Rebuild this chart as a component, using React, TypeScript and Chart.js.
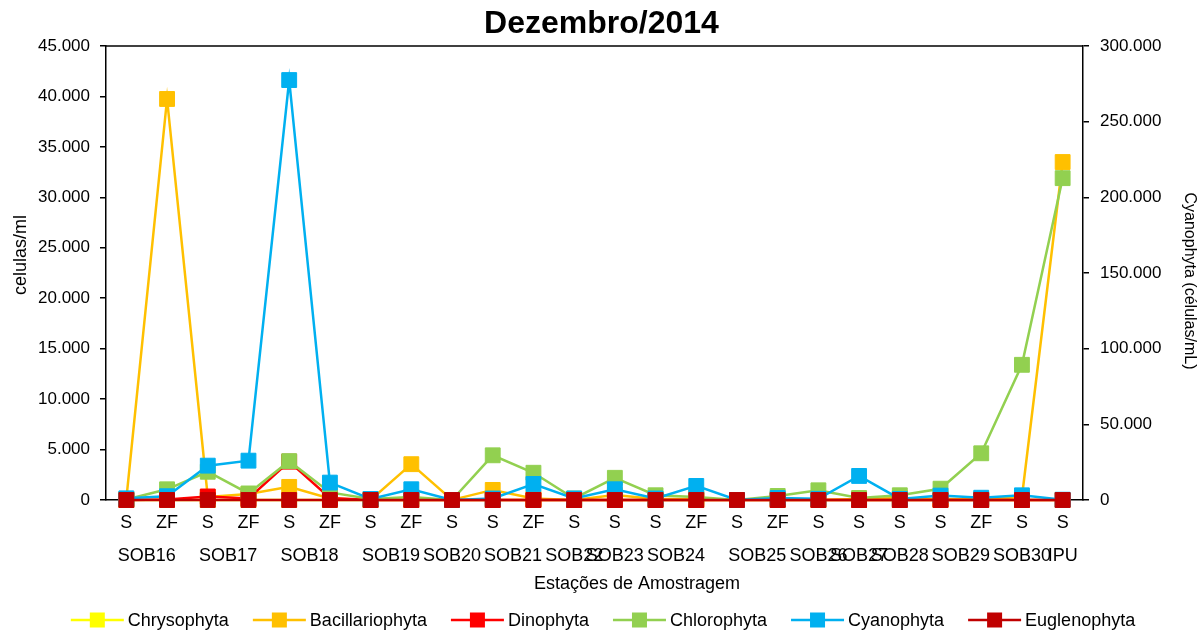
import React, { useEffect, useRef } from 'react';
import { Chart, registerables } from 'chart.js';

Chart.register(...registerables);

// ---------- data ----------
const categories = ['S', 'ZF', 'S', 'ZF', 'S', 'ZF', 'S', 'ZF', 'S', 'S', 'ZF', 'S', 'S', 'S', 'ZF', 'S', 'ZF', 'S', 'S', 'S', 'S', 'ZF', 'S', 'S'];
const groupLabels = ['SOB16', 'SOB17', 'SOB18', 'SOB19', 'SOB20', 'SOB21', 'SOB22', 'SOB23', 'SOB24', 'SOB25', 'SOB26', 'SOB27', 'SOB28', 'SOB29', 'SOB30', 'IPU'];
const groupSpans = [2, 2, 2, 2, 1, 2, 1, 1, 2, 2, 1, 1, 1, 2, 1, 1];

const chrysophyta = [0, 0, 0, 0, 0, 0, 0, 0, 0, 0, 0, 0, 0, 0, 0, 0, 0, 0, 0, 0, 0, 0, 0, 0];
const bacillariophyta = [100, 39750, 300, 600, 1300, 150, 0, 3550, 0, 1000, 150, 0, 500, 100, 100, 0, 100, 0, 100, 200, 100, 100, 300, 33500];
const dinophyta = [0, 50, 350, 150, 3800, 200, 0, 0, 0, 0, 0, 0, 0, 0, 0, 0, 0, 0, 0, 0, 0, 0, 0, 0];
const chlorophyta = [50, 1060, 2800, 650, 3850, 750, 100, 300, 0, 4430, 2700, 150, 2200, 470, 300, 0, 400, 960, 200, 470, 1120, 4630, 13400, 31900];
// Cyanophyta on the secondary (right) axis
const cyanophyta = [1100, 2500, 22700, 26000, 277500, 11500, 700, 7100, 0, 1000, 10600, 1000, 7100, 1000, 9300, 0, 1300, 800, 15900, 700, 2900, 1500, 3100, 200];
const euglenophyta = [0, 0, 0, 0, 0, 0, 0, 0, 0, 0, 0, 0, 0, 0, 0, 0, 0, 0, 0, 0, 0, 0, 0, 0];

const leftTicks = { min: 0, max: 45000, step: 5000 };
const rightTicks = { min: 0, max: 300000, step: 50000 };

const titleText = 'Dezembro/2014';
const xTitle = 'Estações de Amostragem';
const yTitle = 'celulas/ml';
const y1Title = 'Cyanophyta (células/mL)';

const FONT = "'Liberation Sans', Arial, Helvetica, sans-serif";
const fmt = (v: number) => String(Math.round(Number(v))).replace(/\B(?=(\d{3})+(?!\d))/g, '.');

export default function App() {
  const ref = useRef<HTMLCanvasElement>(null);

  useEffect(() => {
    document.body.style.margin = '0';
    const canvas = ref.current;
    if (!canvas) return;

    const series = [
      { label: 'Chrysophyta', data: chrysophyta, color: '#FFFF00', axis: 'y' },
      { label: 'Bacillariophyta', data: bacillariophyta, color: '#FFC000', axis: 'y' },
      { label: 'Dinophyta', data: dinophyta, color: '#FF0000', axis: 'y' },
      { label: 'Chlorophyta', data: chlorophyta, color: '#92D050', axis: 'y' },
      { label: 'Cyanophyta', data: cyanophyta, color: '#00B0F0', axis: 'y1' },
      { label: 'Euglenophyta', data: euglenophyta, color: '#C00000', axis: 'y' },
    ];
    const n = series.length;

    const datasets = series.map((s, i) => ({
      label: s.label,
      data: s.data,
      yAxisID: s.axis,
      borderColor: s.color,
      backgroundColor: s.color,
      pointBackgroundColor: s.color,
      pointBorderColor: s.color,
      pointStyle: 'rect',
      pointRadius: 10.5,
      pointHoverRadius: 10.5,
      pointBorderWidth: 1,
      borderWidth: 2.5,
      tension: 0,
      clip: false,
      order: n - i,
    }));

    const extras = {
      id: 'extras',
      afterDraw(chart: any) {
        const ctx = chart.ctx;
        const xs = chart.scales.x;
        const ca = chart.chartArea;
        ctx.save();
        // top border of plot area
        ctx.strokeStyle = '#000';
        ctx.lineWidth = 1.5;
        ctx.beginPath();
        ctx.moveTo(ca.left, ca.top);
        ctx.lineTo(ca.right, ca.top);
        ctx.stroke();

        // group labels (second level of category axis)
        ctx.font = `18px ${FONT}`;
        ctx.fillStyle = '#000';
        ctx.textAlign = 'center';
        ctx.textBaseline = 'middle';
        let idx = 0;
        groupLabels.forEach((g, i) => {
          const a = xs.getPixelForValue(idx);
          const b = xs.getPixelForValue(idx + groupSpans[i] - 1);
          ctx.fillText(g, (a + b) / 2, xs.top + 56);
          idx += groupSpans[i];
        });

        // axis titles
        ctx.font = `18px ${FONT}`;
        ctx.fillText(xTitle, 637, 584);

        ctx.save();
        ctx.translate(21, 255);
        ctx.rotate(-Math.PI / 2);
        ctx.font = `18px ${FONT}`;
        ctx.fillText(yTitle, 0, 0);
        ctx.restore();

        ctx.save();
        ctx.translate(1189, 281);
        ctx.rotate(Math.PI / 2);
        ctx.font = `16px ${FONT}`;
        ctx.fillText(y1Title, 0, 0);
        ctx.restore();

        // legend
        const lineLen = 53;
        const gapText = 4;
        const gapItem = 24;
        ctx.font = `18px ${FONT}`;
        const widths = series.map((s) => lineLen + gapText + ctx.measureText(s.label).width);
        const total = widths.reduce((a, b) => a + b, 0) + gapItem * (n - 1);
        let x = 603 - total / 2;
        const y = 620;
        ctx.textAlign = 'left';
        series.forEach((s, i) => {
          ctx.strokeStyle = s.color;
          ctx.lineWidth = 2.5;
          ctx.beginPath();
          ctx.moveTo(x, y);
          ctx.lineTo(x + lineLen, y);
          ctx.stroke();
          ctx.fillStyle = s.color;
          ctx.fillRect(x + lineLen / 2 - 7.5, y - 7.5, 15, 15);
          ctx.fillStyle = '#000';
          ctx.fillText(s.label, x + lineLen + gapText, y + 1);
          x += widths[i] + gapItem;
        });
        ctx.restore();
      },
    };

    const chart = new Chart(canvas, {
      type: 'line',
      data: { labels: categories, datasets: datasets as any },
      options: {
        responsive: false,
        animation: false,
        layout: { padding: { top: 0, bottom: 31, left: 0, right: 0 } },
        plugins: {
          legend: { display: false },
          tooltip: { enabled: false },
          title: {
            display: true,
            text: titleText,
            color: '#000',
            font: { family: FONT, size: 32, weight: 'bold' },
            padding: { top: 5, bottom: 2.6 },
          },
        },
        scales: {
          x: {
            type: 'category',
            offset: true,
            grid: { display: false, drawTicks: false },
            border: { display: true, color: '#000', width: 1.5 },
            ticks: { color: '#000', font: { family: FONT, size: 18 }, padding: 12, maxRotation: 0, autoSkip: false },
            afterFit(s: any) { s.height = 100; },
          },
          y: {
            position: 'left',
            min: leftTicks.min,
            max: leftTicks.max,
            grid: { display: true, drawOnChartArea: false, drawTicks: true, tickLength: 6, color: '#000', lineWidth: 1.5 },
            border: { display: true, color: '#000', width: 1.5 },
            ticks: { stepSize: leftTicks.step, color: '#000', font: { family: FONT, size: 17 }, padding: 10, callback: (v: any) => fmt(v) },
            afterFit(s: any) { s.width = 106; },
          },
          y1: {
            position: 'right',
            min: rightTicks.min,
            max: rightTicks.max,
            grid: { display: true, drawOnChartArea: false, drawTicks: true, tickLength: 6, color: '#000', lineWidth: 1.5 },
            border: { display: true, color: '#000', width: 1.5 },
            ticks: { stepSize: rightTicks.step, color: '#000', font: { family: FONT, size: 17 }, padding: 11, callback: (v: any) => fmt(v) },
            afterFit(s: any) { s.width = 120; },
          },
        },
      } as any,
      plugins: [extras],
    });

    return () => chart.destroy();
  }, []);

  return (
    <div style={{ width: 1203, height: 631, background: '#fff' }}>
      <canvas ref={ref} width={1203} height={631} style={{ display: 'block' }} />
    </div>
  );
}
